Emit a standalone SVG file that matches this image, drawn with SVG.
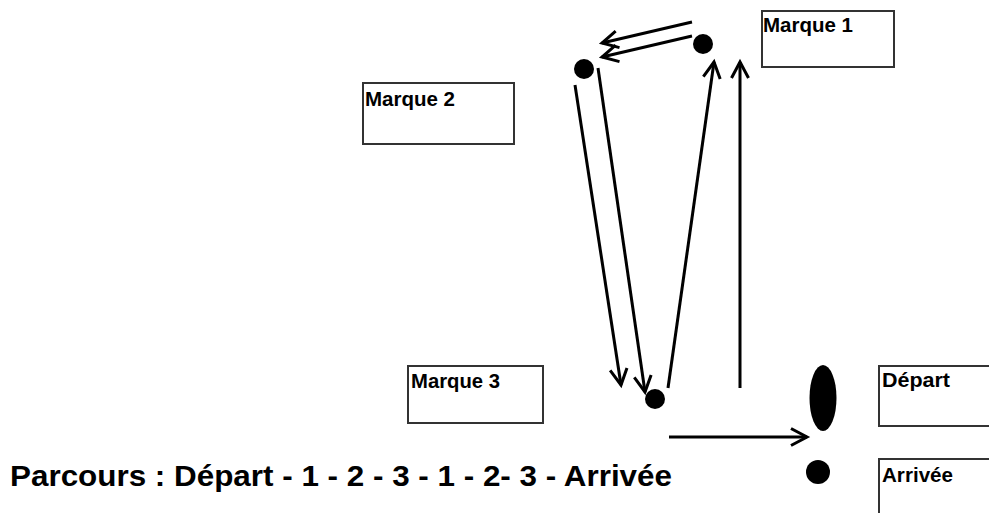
<svg xmlns="http://www.w3.org/2000/svg" width="989" height="513" viewBox="0 0 989 513">
<style>
.box{fill:#fff;stroke:#333;stroke-width:2}
.lbl{font-family:"Liberation Sans",Arial,sans-serif;font-weight:bold;font-size:21px;fill:#000}
.dot{fill:#000}
.arr{stroke:#000;stroke-width:3;fill:none;marker-end:url(#ah)}
.title{font-family:"Liberation Sans",Arial,sans-serif;font-weight:bold;font-size:30px;fill:#000}
</style>
<defs>
<marker id="ah" markerUnits="userSpaceOnUse" markerWidth="30" markerHeight="30" viewBox="-20 -15 30 30" refX="0" refY="0" orient="auto">
<path d="M-16,-8.5 L0,0 L-16,8.5" fill="none" stroke="#000" stroke-width="3" stroke-linejoin="miter"/>
</marker>
</defs>
<rect width="989" height="513" fill="#fff"/>
<g id="marque1">
<rect class="box" x="762" y="11" width="132" height="56"/>
<text class="lbl" x="763" y="32" textLength="90" lengthAdjust="spacingAndGlyphs">Marque 1</text>
<circle class="dot" cx="703" cy="44" r="10"/>
</g>
<g id="marque2">
<rect class="box" x="363" y="83" width="151" height="61"/>
<text class="lbl" x="365" y="106" textLength="90" lengthAdjust="spacingAndGlyphs">Marque 2</text>
<circle class="dot" cx="584" cy="69" r="10"/>
</g>
<g id="marque3">
<rect class="box" x="408" y="366" width="135" height="57"/>
<text class="lbl" x="411" y="388" textLength="89" lengthAdjust="spacingAndGlyphs">Marque 3</text>
<circle class="dot" cx="655" cy="399" r="10"/>
</g>
<g id="depart">
<rect class="box" x="879" y="366" width="120" height="60"/>
<text class="lbl" x="882" y="387" textLength="68" lengthAdjust="spacingAndGlyphs">Départ</text>
<ellipse class="dot" cx="823" cy="398" rx="13.5" ry="33"/>
</g>
<g id="arrivee">
<rect class="box" x="879" y="459" width="120" height="70"/>
<text class="lbl" x="882" y="482" textLength="71" lengthAdjust="spacingAndGlyphs">Arrivée</text>
<circle class="dot" cx="818" cy="472" r="12"/>
</g>
<g id="connectors">
<line class="arr" x1="692" y1="22" x2="602" y2="43"/>
<line class="arr" x1="692" y1="36" x2="602" y2="57"/>
<line class="arr" x1="575" y1="85" x2="621" y2="385"/>
<line class="arr" x1="598" y1="68" x2="645" y2="392"/>
<line class="arr" x1="668" y1="388" x2="714" y2="62"/>
<line class="arr" x1="740" y1="388" x2="740" y2="62"/>
<line class="arr" x1="669" y1="437" x2="807" y2="437"/>
</g>
<text class="title" x="10" y="486" textLength="662" lengthAdjust="spacingAndGlyphs">Parcours : Départ - 1 - 2 - 3 - 1 - 2- 3 - Arrivée</text>
</svg>
